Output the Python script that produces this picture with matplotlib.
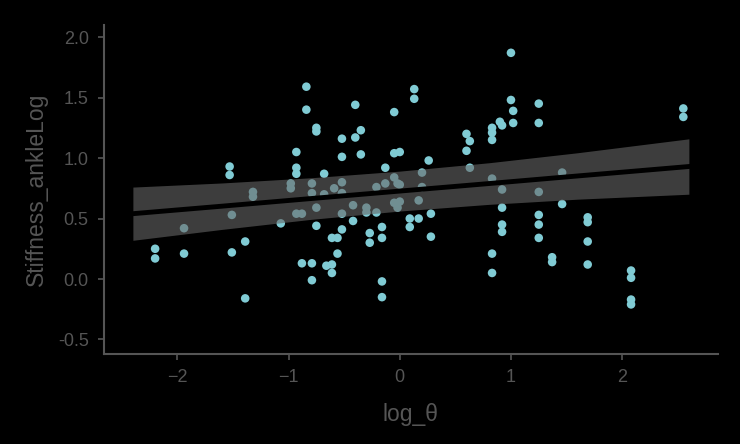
import numpy as np
import matplotlib.pyplot as plt

# scatter data
log_theta = [-2.20, -2.20, -1.94, -1.94, -1.53, -1.53, -1.51, -1.51, -1.39, -1.39,
             -1.32, -1.32, -1.07, -0.98, -0.98, -0.93, -0.93, -0.93, -0.93, -0.88,
             -0.88, -0.84, -0.84, -0.75, -0.75, -0.75, -0.75, -0.79, -0.79, -0.79,
             -0.79, -0.68, -0.68, -0.66, -0.61, -0.61, -0.59, -0.56, -0.61, -0.56,
             -0.52, -0.52, -0.52, -0.52, -0.52, -0.52, -0.42, -0.42, -0.40, -0.40,
             -0.35, -0.35, -0.30, -0.30, -0.27, -0.27, -0.21, -0.21, -0.16, -0.16,
             -0.16, -0.16, -0.13, -0.13, -0.05, -0.05, -0.05, -0.05, -0.02, -0.02,
             0.00, 0.00, 0.00, 0.13, 0.13, 0.09, 0.09, 0.17, 0.17, 0.20,
             0.20, 0.26, 0.28, 0.28, 0.60, 0.63, 0.60, 0.63, 0.83, 0.83,
             0.83, 0.83, 0.83, 0.83, 0.90, 0.92, 0.92, 0.92, 0.92, 0.92,
             1.00, 1.00, 1.02, 1.02, 1.25, 1.25, 1.25, 1.25, 1.25, 1.25,
             1.37, 1.37, 1.46, 1.46, 1.69, 1.69, 1.69, 1.69, 2.08, 2.08,
             2.08, 2.08, 2.55, 2.55]
stiffness = [0.25, 0.17, 0.21, 0.42, 0.93, 0.86, 0.53, 0.22, 0.31, -0.16,
             0.72, 0.68, 0.46, 0.79, 0.75, 1.05, 0.92, 0.87, 0.54, 0.54,
             0.13, 1.59, 1.40, 1.25, 1.22, 0.59, 0.44, 0.79, 0.71, 0.13,
             -0.01, 0.87, 0.70, 0.11, 0.12, 0.05, 0.75, 0.34, 0.34, 0.21,
             1.16, 1.01, 0.80, 0.71, 0.54, 0.41, 0.61, 0.48, 1.44, 1.17,
             1.23, 1.03, 0.59, 0.55, 0.38, 0.30, 0.76, 0.55, 0.43, 0.34,
             -0.02, -0.15, 0.92, 0.79, 1.38, 1.04, 0.84, 0.63, 0.79, 0.59,
             1.05, 0.78, 0.64, 1.57, 1.49, 0.50, 0.43, 0.50, 0.65, 0.88,
             0.76, 0.98, 0.54, 0.35, 1.20, 1.14, 1.06, 0.92, 1.25, 1.21,
             1.15, 0.83, 0.21, 0.05, 1.30, 1.27, 0.74, 0.59, 0.45, 0.39,
             1.87, 1.48, 1.39, 1.29, 1.45, 1.29, 0.72, 0.53, 0.45, 0.34,
             0.18, 0.14, 0.88, 0.62, 0.51, 0.47, 0.31, 0.12, 0.07, 0.01,
             -0.17, -0.21, 1.41, 1.34]

# regression line and confidence band
fit_x = [-2.4, -1.6, -0.8, 0.0, 0.8, 1.6, 2.6]
fit_y = [0.540, 0.602, 0.665, 0.727, 0.789, 0.852, 0.930]
fit_lo = [0.32, 0.41, 0.493, 0.562, 0.617, 0.660, 0.701]
fit_hi = [0.76, 0.794, 0.837, 0.892, 0.961, 1.044, 1.159]

txt = '#555555'
plt.rcParams['font.family'] = ['Liberation Sans', 'DejaVu Sans']

fig = plt.figure(figsize=(7.4, 4.44), dpi=100, facecolor='black')
ax = fig.add_axes([0.1405, 0.2027, 0.8295, 0.741])
ax.set_facecolor('black')

ax.scatter(log_theta, stiffness, s=38, color='#80cbd4', edgecolors='none', zorder=2)
ax.fill_between(fit_x, fit_lo, fit_hi, color='#666666', alpha=0.6, linewidth=0, zorder=3)
ax.plot(fit_x, fit_y, color='black', linewidth=3.5, zorder=4)

ax.set_xlim(-2.66, 2.86)
ax.set_ylim(-0.62, 2.10)
ax.set_xticks([-2, -1, 0, 1, 2])
ax.set_yticks([-0.5, 0.0, 0.5, 1.0, 1.5, 2.0])
ax.set_yticklabels(['-0.5', '0.0', '0.5', '1.0', '1.5', '2.0'])

for s in ['top', 'right']:
    ax.spines[s].set_visible(False)
for s in ['left', 'bottom']:
    ax.spines[s].set_color(txt)
    ax.spines[s].set_linewidth(1.5)
ax.tick_params(colors=txt, labelsize=13, length=4, width=1.2, pad=7)

ax.set_xlabel('log_θ', color=txt, fontsize=16.5, labelpad=12)
ax.set_ylabel('Stiffness_ankleLog', color=txt, fontsize=16.5, labelpad=7)

fig.savefig('out.png', dpi=100, facecolor='black')
